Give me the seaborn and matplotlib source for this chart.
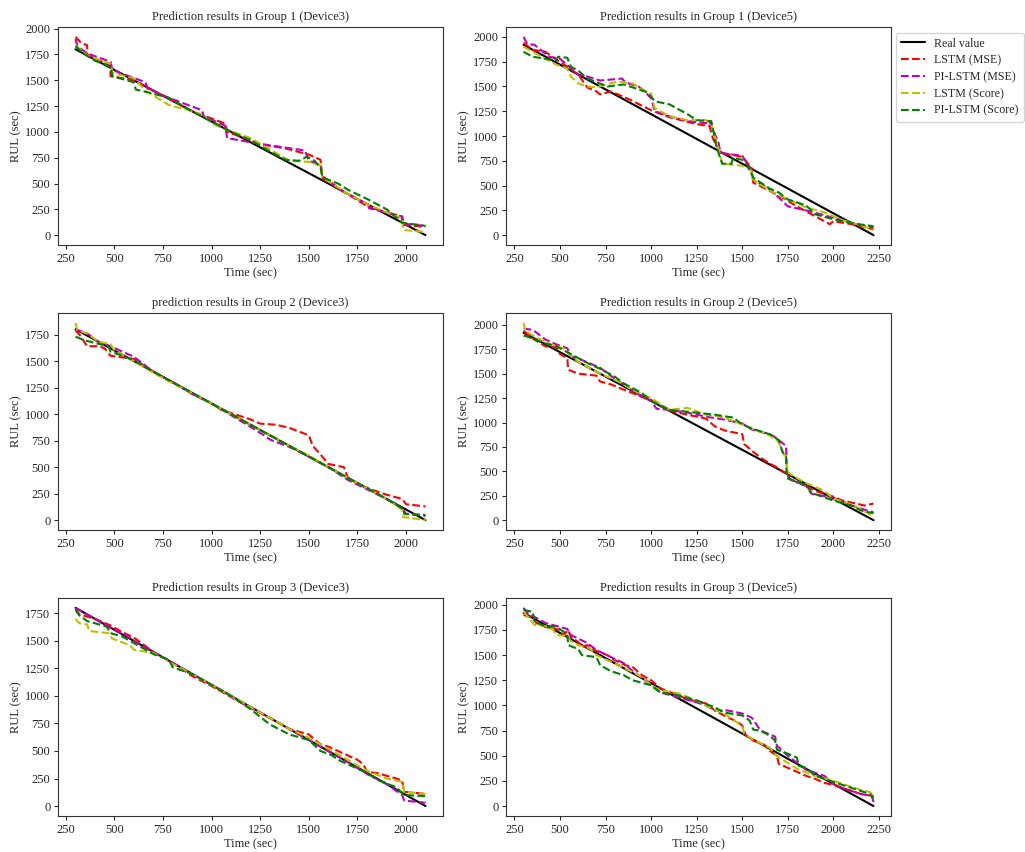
import matplotlib
matplotlib.use("Agg")
import pandas as pd
import seaborn as sns
from matplotlib import pyplot as plt
from matplotlib.ticker import MultipleLocator

# real RUL lines (start/end of the run)
d3_real_t = [300, 2100]
d3_real_v = [1800, 0]
d5_real_t = [300, 2220]
d5_real_v = [1920, 0]

# Group 1, Device3
g1_d3_lstm_mse = [(300, 1920), (330, 1860), (360, 1840), (360, 1750), (480, 1640), (480, 1540), (600, 1500),
                  (660, 1440), (780, 1320), (900, 1200), (1000, 1130), (1070, 1080), (1080, 1000), (1200, 920),
                  (1250, 880), (1380, 840), (1500, 780), (1560, 730), (1570, 550), (1680, 420), (1800, 280),
                  (1900, 220), (1980, 180), (1980, 100), (2100, 80)]
g1_d3_pi_mse = [(300, 1900), (310, 1830), (360, 1760), (480, 1680), (490, 1600), (660, 1480), (670, 1420),
                (780, 1330), (950, 1210), (960, 1150), (1070, 1060), (1080, 940), (1200, 900), (1300, 870),
                (1480, 820), (1500, 720), (1560, 680), (1570, 570), (1680, 420), (1800, 300), (1810, 260),
                (1980, 180), (1990, 110), (2100, 90)]
g1_d3_lstm_score = [(300, 1840), (360, 1740), (480, 1660), (490, 1570), (600, 1520), (660, 1400), (780, 1260),
                    (900, 1200), (960, 1160), (1000, 1080), (1080, 1020), (1200, 940), (1300, 830), (1400, 720),
                    (1500, 710), (1560, 680), (1570, 560), (1700, 400), (1800, 300), (1900, 220), (1980, 160),
                    (1985, 50), (2100, 30)]
g1_d3_pi_score = [(300, 1830), (340, 1760), (400, 1690), (480, 1630), (490, 1540), (600, 1480), (610, 1410),
                  (700, 1370), (780, 1330), (900, 1200), (1100, 1000), (1200, 920), (1300, 810), (1380, 730),
                  (1450, 720), (1490, 760), (1530, 720), (1560, 650), (1570, 560), (1650, 500), (1700, 440),
                  (1800, 350), (1900, 250), (1980, 120), (2100, 90)]

# Group 1, Device5
g1_d5_lstm_mse = [(300, 1940), (350, 1870), (420, 1850), (480, 1770), (540, 1700), (600, 1620), (650, 1490),
                  (700, 1450), (720, 1420), (780, 1450), (880, 1370), (1000, 1260), (1100, 1190), (1250, 1120),
                  (1320, 1100), (1340, 970), (1380, 830), (1500, 790), (1550, 680), (1560, 530), (1700, 400),
                  (1800, 290), (1900, 190), (1980, 110), (2000, 140), (2100, 110), (2220, 60)]
g1_d5_pi_mse = [(300, 2000), (320, 1930), (360, 1920), (440, 1800), (500, 1780), (550, 1700), (600, 1620),
                (650, 1600), (720, 1560), (840, 1580), (860, 1540), (930, 1500), (960, 1460), (1000, 1380),
                (1020, 1250), (1100, 1200), (1200, 1150), (1300, 1130), (1320, 1150), (1370, 930), (1380, 830),
                (1500, 800), (1550, 660), (1560, 560), (1650, 460), (1700, 380), (1750, 290), (1850, 250),
                (1950, 200), (2050, 150), (2150, 100), (2220, 80)]
g1_d5_lstm_score = [(300, 1900), (350, 1850), (420, 1780), (480, 1720), (540, 1680), (560, 1600), (600, 1530),
                    (650, 1500), (700, 1490), (750, 1520), (820, 1550), (900, 1530), (950, 1470), (1000, 1430),
                    (1020, 1280), (1100, 1200), (1200, 1160), (1300, 1160), (1330, 1120), (1370, 870), (1390, 720),
                    (1450, 710), (1500, 700), (1550, 650), (1560, 560), (1650, 450), (1750, 360), (1850, 280),
                    (1950, 230), (2050, 150), (2150, 100), (2220, 50)]
g1_d5_pi_score = [(300, 1850), (350, 1800), (420, 1780), (480, 1760), (490, 1800), (540, 1790), (560, 1700),
                  (600, 1660), (650, 1580), (720, 1530), (760, 1500), (850, 1520), (900, 1490), (980, 1440),
                  (1020, 1350), (1100, 1320), (1200, 1220), (1250, 1160), (1330, 1150), (1360, 880), (1390, 720),
                  (1440, 720), (1450, 780), (1500, 760), (1530, 700), (1560, 580), (1650, 470), (1700, 430),
                  (1750, 360), (1850, 300), (1900, 210), (2000, 160), (2100, 120), (2220, 90)]

# Group 2, Device3
g2_d3_lstm_mse = [(300, 1790), (320, 1750), (360, 1640), (420, 1640), (450, 1620), (480, 1550), (600, 1520),
                  (700, 1400), (800, 1300), (900, 1190), (1000, 1100), (1050, 1040), (1100, 1010), (1150, 980),
                  (1200, 950), (1250, 910), (1330, 900), (1400, 870), (1500, 800), (1520, 700), (1560, 620),
                  (1600, 530), (1680, 500), (1700, 400), (1780, 320), (1820, 290), (1900, 240), (1980, 200),
                  (2000, 150), (2100, 130)]
g2_d3_pi_mse = [(300, 1800), (360, 1760), (420, 1680), (480, 1640), (540, 1590), (600, 1540), (700, 1400),
                (800, 1300), (900, 1190), (1000, 1100), (1100, 990), (1200, 880), (1270, 800), (1300, 760),
                (1400, 690), (1500, 600), (1600, 500), (1700, 380), (1800, 290), (1900, 200), (1980, 110),
                (2000, 60), (2100, 50)]
g2_d3_lstm_score = [(300, 1860), (310, 1790), (360, 1760), (420, 1680), (480, 1660), (500, 1600), (600, 1500),
                    (700, 1390), (800, 1290), (900, 1200), (1000, 1100), (1100, 1000), (1200, 900), (1300, 800),
                    (1400, 700), (1500, 610), (1600, 500), (1700, 400), (1800, 300), (1900, 200), (1980, 100),
                    (1985, 30), (2100, 0)]
g2_d3_pi_score = [(300, 1730), (340, 1700), (400, 1670), (470, 1640), (480, 1590), (540, 1550), (600, 1510),
                  (700, 1400), (800, 1300), (900, 1200), (1000, 1100), (1100, 1000), (1200, 900), (1300, 800),
                  (1400, 700), (1500, 600), (1600, 500), (1700, 400), (1800, 300), (1900, 200), (1990, 100),
                  (1990, 60), (2100, 40)]

# Group 2, Device5
g2_d5_lstm_mse = [(300, 1940), (350, 1860), (420, 1780), (480, 1770), (500, 1700), (540, 1660), (545, 1540),
                  (600, 1500), (700, 1480), (720, 1420), (780, 1390), (830, 1350), (900, 1300), (950, 1260),
                  (1000, 1230), (1050, 1170), (1100, 1120), (1200, 1080), (1300, 1040), (1350, 960), (1400, 920),
                  (1500, 880), (1510, 780), (1560, 700), (1600, 640), (1650, 580), (1690, 540), (1720, 500),
                  (1750, 480), (1760, 420), (1850, 350), (1900, 300), (2000, 240), (2050, 200), (2100, 180),
                  (2170, 150), (2220, 170)]
g2_d5_pi_mse = [(300, 1960), (350, 1950), (420, 1850), (480, 1800), (540, 1760), (560, 1680), (620, 1640),
                (720, 1560), (800, 1450), (920, 1300), (1000, 1220), (1030, 1140), (1100, 1130), (1200, 1100),
                (1300, 1060), (1400, 1030), (1500, 990), (1550, 930), (1650, 880), (1680, 850), (1740, 760),
                (1745, 480), (1760, 420), (1850, 350), (1880, 270), (2000, 230), (2100, 150), (2200, 90),
                (2220, 80)]
g2_d5_lstm_score = [(300, 2020), (310, 1940), (360, 1880), (450, 1800), (520, 1760), (560, 1680), (600, 1620),
                    (660, 1560), (720, 1500), (820, 1420), (900, 1330), (1000, 1250), (1100, 1130), (1200, 1150),
                    (1300, 1080), (1400, 1050), (1500, 980), (1550, 940), (1650, 870), (1700, 800), (1740, 620),
                    (1750, 490), (1800, 430), (1850, 380), (1950, 300), (2000, 220), (2100, 160), (2220, 40)]
g2_d5_pi_score = [(300, 1890), (320, 1880), (400, 1820), (480, 1780), (540, 1720), (600, 1660), (660, 1600),
                  (720, 1550), (800, 1470), (850, 1400), (950, 1300), (1000, 1220), (1100, 1130), (1150, 1120),
                  (1250, 1100), (1350, 1080), (1450, 1050), (1500, 980), (1550, 940), (1650, 880), (1700, 820),
                  (1720, 700), (1740, 650), (1745, 430), (1850, 360), (1880, 280), (2000, 200), (2100, 150),
                  (2150, 100), (2220, 70)]

# Group 3, Device3
g3_d3_lstm_mse = [(300, 1790), (320, 1740), (400, 1700), (480, 1640), (540, 1580), (600, 1530), (700, 1400),
                  (800, 1300), (900, 1180), (1000, 1090), (1100, 990), (1200, 890), (1300, 800), (1400, 700),
                  (1500, 650), (1520, 620), (1560, 560), (1600, 540), (1700, 460), (1750, 420), (1780, 380),
                  (1800, 310), (1850, 300), (1950, 250), (1980, 230), (1990, 130), (2100, 110)]
g3_d3_pi_mse = [(300, 1800), (340, 1760), (420, 1680), (500, 1600), (560, 1550), (600, 1500), (700, 1400),
                (800, 1300), (900, 1200), (1000, 1100), (1100, 1000), (1200, 900), (1300, 800), (1400, 700),
                (1500, 600), (1600, 500), (1700, 400), (1800, 290), (1900, 200), (1980, 100), (1990, 50),
                (2100, 30)]
g3_d3_lstm_score = [(300, 1700), (320, 1660), (360, 1650), (370, 1590), (470, 1570), (490, 1520), (580, 1460),
                    (600, 1420), (700, 1390), (750, 1350), (800, 1290), (900, 1200), (1000, 1100), (1100, 1000),
                    (1200, 900), (1300, 800), (1400, 700), (1500, 620), (1600, 520), (1700, 420), (1800, 320),
                    (1900, 250), (1980, 220), (1990, 130), (2100, 110)]
g3_d3_pi_score = [(300, 1780), (320, 1730), (360, 1680), (460, 1630), (480, 1570), (540, 1540), (600, 1480),
                  (660, 1420), (700, 1380), (780, 1330), (800, 1260), (900, 1200), (1000, 1100), (1100, 1000),
                  (1200, 880), (1300, 740), (1400, 650), (1500, 600), (1560, 500), (1620, 460), (1650, 420),
                  (1700, 380), (1800, 300), (1850, 240), (1950, 170), (1990, 100), (2100, 90)]

# Group 3, Device5
g3_d5_lstm_mse = [(300, 1900), (350, 1870), (370, 1820), (420, 1780), (500, 1750), (520, 1700), (545, 1750),
                  (560, 1680), (600, 1630), (620, 1580), (650, 1600), (700, 1540), (760, 1500), (800, 1450),
                  (860, 1400), (900, 1380), (950, 1300), (1000, 1250), (1050, 1170), (1150, 1100), (1200, 1060),
                  (1300, 1020), (1350, 950), (1400, 900), (1480, 830), (1500, 800), (1520, 700), (1560, 650),
                  (1620, 610), (1650, 550), (1690, 500), (1700, 420), (1750, 380), (1800, 340), (1850, 300),
                  (1900, 270), (1950, 230), (2000, 210), (2050, 180), (2100, 150), (2150, 120), (2220, 100)]
g3_d5_pi_mse = [(300, 1970), (320, 1920), (360, 1880), (420, 1820), (500, 1780), (540, 1760), (560, 1700),
                (650, 1620), (700, 1550), (780, 1480), (850, 1420), (900, 1340), (960, 1260), (1000, 1200),
                (1050, 1130), (1150, 1080), (1250, 1030), (1300, 1000), (1350, 950), (1420, 950), (1500, 920),
                (1550, 880), (1560, 860), (1600, 750), (1680, 690), (1690, 600), (1720, 550), (1750, 500),
                (1800, 430), (1850, 360), (1950, 300), (2000, 220), (2050, 180), (2150, 120), (2210, 100),
                (2220, 40)]
g3_d5_lstm_score = [(300, 1930), (330, 1870), (360, 1800), (420, 1790), (460, 1760), (480, 1700), (540, 1690),
                    (560, 1640), (600, 1600), (660, 1570), (700, 1500), (760, 1450), (820, 1400), (900, 1330),
                    (960, 1270), (1000, 1200), (1050, 1150), (1150, 1120), (1250, 1050), (1300, 1000),
                    (1400, 920), (1450, 860), (1500, 790), (1510, 720), (1560, 660), (1650, 580), (1700, 480),
                    (1750, 430), (1800, 370), (1900, 300), (2000, 250), (2050, 220), (2150, 160), (2200, 140),
                    (2220, 110)]
g3_d5_pi_score = [(300, 1950), (350, 1930), (360, 1840), (400, 1800), (480, 1780), (540, 1710), (545, 1600),
                  (600, 1560), (620, 1500), (700, 1480), (720, 1400), (780, 1340), (850, 1300), (900, 1250),
                  (1000, 1200), (1050, 1130), (1150, 1100), (1250, 1050), (1350, 980), (1400, 930),
                  (1500, 900), (1540, 850), (1560, 760), (1600, 750), (1650, 700), (1680, 650), (1690, 560),
                  (1750, 520), (1800, 480), (1810, 400), (1850, 380), (1900, 300), (2000, 240), (2100, 180),
                  (2200, 120), (2220, 80)]

panel_titles = ["Prediction results in Group 1 (Device3)", "Prediction results in Group 1 (Device5)",
                "prediction results in Group 2 (Device3)", "Prediction results in Group 2 (Device5)",
                "Prediction results in Group 3 (Device3)", "Prediction results in Group 3 (Device5)"]
model_names = ["LSTM (MSE)", "PI-LSTM (MSE)", "LSTM (Score)", "PI-LSTM (Score)"]
model_colors = ["r", "m", "y", "g"]

panels = [
    (d3_real_t, d3_real_v, [g1_d3_lstm_mse, g1_d3_pi_mse, g1_d3_lstm_score, g1_d3_pi_score]),
    (d5_real_t, d5_real_v, [g1_d5_lstm_mse, g1_d5_pi_mse, g1_d5_lstm_score, g1_d5_pi_score]),
    (d3_real_t, d3_real_v, [g2_d3_lstm_mse, g2_d3_pi_mse, g2_d3_lstm_score, g2_d3_pi_score]),
    (d5_real_t, d5_real_v, [g2_d5_lstm_mse, g2_d5_pi_mse, g2_d5_lstm_score, g2_d5_pi_score]),
    (d3_real_t, d3_real_v, [g3_d3_lstm_mse, g3_d3_pi_mse, g3_d3_lstm_score, g3_d3_pi_score]),
    (d5_real_t, d5_real_v, [g3_d5_lstm_mse, g3_d5_pi_mse, g3_d5_lstm_score, g3_d5_pi_score]),
]

sns.set_style("ticks")
plt.rcParams['font.family'] = ['Liberation Serif', 'DejaVu Serif']
plt.rc('font', size=9)
plt.rc('axes', titlesize=9, labelsize=9, labelpad=2)
plt.rc('xtick', labelsize=9)
plt.rc('ytick', labelsize=9)
plt.rc('xtick.major', size=3, pad=2.5)
plt.rc('ytick.major', size=3, pad=2.5)
plt.rc('legend', fontsize=8.6)

fig = plt.figure(figsize=(10.25, 8.52), dpi=100)

# axes boxes [left, bottom, width, height] in figure fraction
boxes = [
    [0.0566, 0.7124, 0.3756, 0.2559], [0.4937, 0.7124, 0.3756, 0.2559],
    [0.0566, 0.3779, 0.3756, 0.2547], [0.4937, 0.3779, 0.3756, 0.2547],
    [0.0566, 0.0423, 0.3756, 0.2559], [0.4937, 0.0423, 0.3756, 0.2559],
]

for i, (real_t, real_v, preds) in enumerate(panels):
    ax = fig.add_axes(boxes[i])
    sns.lineplot(x=real_t, y=real_v, ax=ax, color='k', linewidth=1.5, label='Real value',
                 estimator=None, sort=False)
    for name, color, series in zip(model_names, model_colors, preds):
        df = pd.DataFrame(series, columns=['Time', 'RUL'])
        sns.lineplot(data=df, x='Time', y='RUL', ax=ax, color=color, linewidth=1.5,
                     linestyle='--', label=name, estimator=None, sort=False)
    ax.set_title(panel_titles[i], pad=5)
    ax.set_xlabel('Time (sec)')
    ax.set_ylabel('RUL (sec)')
    ax.set_xticks(range(250, 2001 if i % 2 == 0 else 2251, 250))
    ax.yaxis.set_major_locator(MultipleLocator(250))
    for sp in ax.spines.values():
        sp.set_color('#333333')
    if i == 1:
        ax.legend(loc='upper left', bbox_to_anchor=(1.013, 0.973), borderaxespad=0,
                  frameon=True, labelspacing=0.4)
    else:
        ax.get_legend().remove()

fig.savefig('out.png', dpi=100)
